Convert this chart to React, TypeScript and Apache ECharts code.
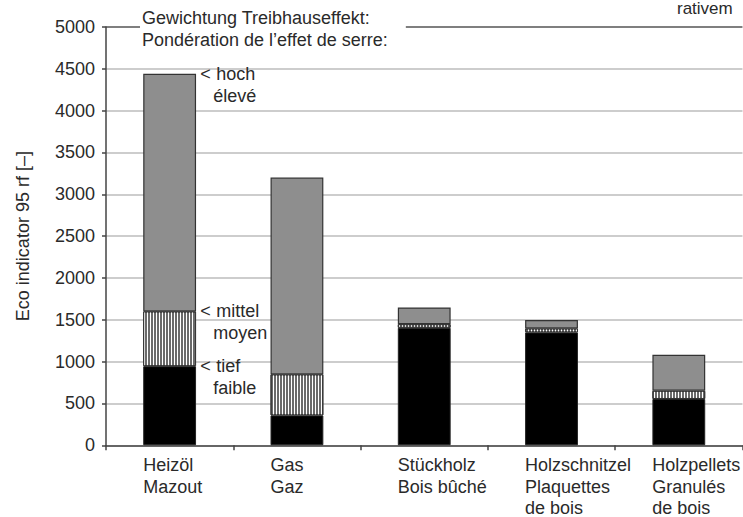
import React, { useEffect, useRef } from 'react';
import * as echarts from 'echarts';

const categories = [
  'Heizöl\nMazout',
  'Gas\nGaz',
  'Stückholz\nBois bûché',
  'Holzschnitzel\nPlaquettes\nde bois',
  'Holzpellets\nGranulés\nde bois',
];
// cumulative heights per weighting (tief / mittel / hoch)
const tief = [945, 357, 1404, 1349, 553];
const mittel = [1600, 847, 1447, 1396, 651];
const hoch = [4440, 3200, 1647, 1498, 1082];
const yMin = 0;
const yMax = 5000;
const yInterval = 500;
const yAxisName = 'Eco indicator 95 rf [–]';
const titleLines = ['Gewichtung Treibhauseffekt:', 'Pondération de l’effet de serre:'];
const annotHoch = ['hoch', 'élevé'];
const annotMittel = ['mittel', 'moyen'];
const annotTief = ['tief', 'faible'];
const cornerText = 'rativem';

const FONT = '"Liberation Sans", Arial, sans-serif';
const TXT = '#2a2a2a';

function annotLabel(lines: string[]) {
  return {
    show: true,
    position: [57, -11],
    align: 'left',
    verticalAlign: 'top',
    formatter: `{p|<}{t|${lines[0]}}\n{q|}{t|${lines[1]}}`,
    rich: {
      p: { width: 13, fontSize: 18, lineHeight: 22, fontFamily: FONT, color: TXT, align: 'left', padding: [0, 3, 0, 0] },
      q: { width: 13, fontSize: 18, lineHeight: 22, fontFamily: FONT, color: TXT, align: 'left' },
      t: { fontSize: 18, lineHeight: 22, fontFamily: FONT, color: TXT, align: 'left' },
    },
  };
}

export default function App() {
  const ref = useRef<HTMLDivElement>(null);
  useEffect(() => {
    if (!ref.current) return;
    const chart = echarts.init(ref.current, undefined, { renderer: 'svg' });
    const seg1 = tief.map((v, i) => (i === 0 ? { value: v, label: annotLabel(annotTief) } : v));
    const seg2 = mittel.map((v, i) => {
      const d = v - tief[i];
      return i === 0 ? { value: d, label: annotLabel(annotMittel) } : d;
    });
    const seg3 = hoch.map((v, i) => {
      const d = v - mittel[i];
      return i === 0 ? { value: d, label: annotLabel(annotHoch) } : d;
    });
    const nLines = Math.round((yMax - yMin) / yInterval) + 1;
    const splitColors = Array.from({ length: nLines }, (_, i) => (i === nLines - 1 ? '#555' : '#bdbdbd'));
    chart.setOption({
      animation: false,
      grid: { left: 106, right: -3, top: 27, bottom: 65, containLabel: false },
      xAxis: {
        type: 'category',
        data: categories,
        axisLine: { lineStyle: { color: '#444', width: 1.5 } },
        axisTick: { show: true, length: 5, lineStyle: { color: '#444', width: 1.5 } },
        axisLabel: {
          interval: 0,
          align: 'center',
          width: 53,
          overflow: 'none',
          margin: 9,
          formatter: (v: string) => v.split('\n').map((s) => `{a|${s}}`).join('\n'),
          rich: {
            a: { align: 'left', fontSize: 18, lineHeight: 21.5, fontFamily: FONT, color: TXT },
          },
        },
      },
      yAxis: {
        type: 'value',
        min: yMin,
        max: yMax,
        interval: yInterval,
        name: yAxisName,
        nameLocation: 'middle',
        nameGap: 74,
        nameTextStyle: { fontSize: 18, fontFamily: FONT, color: TXT },
        axisLine: { show: true, lineStyle: { color: '#444', width: 1.5 } },
        axisTick: { show: true, length: 4, lineStyle: { color: '#444', width: 1.5 } },
        axisLabel: {
          fontSize: 18,
          fontFamily: FONT,
          color: TXT,
          margin: 11,
          formatter: (v: number) => String(v),
        },
        splitLine: { show: true, lineStyle: { color: splitColors, width: 1.5 } },
      },
      series: [
        {
          type: 'bar',
          stack: 'a',
          barWidth: '41.5%',
          data: seg1,
          itemStyle: { color: '#000', borderColor: '#222', borderWidth: 1 },
        },
        {
          type: 'bar',
          stack: 'a',
          data: seg2,
          itemStyle: {
            color: '#6a6a6a',
            borderColor: '#333',
            borderWidth: 1,
            decal: {
              symbol: 'rect',
              symbolSize: 1,
              color: '#ffffff',
              dashArrayX: [1, 2],
              dashArrayY: [1, 0],
              rotation: 0,
            },
          },
        },
        {
          type: 'bar',
          stack: 'a',
          data: seg3,
          itemStyle: { color: '#8e8e8e', borderColor: '#333', borderWidth: 1.2 },
        },
      ],
      graphic: [
        {
          type: 'text',
          left: 140,
          top: 7,
          z: 100,
          style: {
            text: titleLines.join('\n'),
            fontSize: 18,
            lineHeight: 22,
            fontFamily: FONT,
            fill: TXT,
            backgroundColor: '#fff',
            padding: [0, 18, 0, 2],
          },
        },
        {
          type: 'text',
          left: 677,
          top: 0,
          z: 100,
          style: { text: cornerText, fontSize: 17, lineHeight: 17, fontFamily: FONT, fill: TXT },
        },
      ],
    });
    return () => chart.dispose();
  }, []);
  return (
    <div
      ref={ref}
      style={{ position: 'fixed', left: 0, top: 0, width: 743, height: 517, background: '#fff' }}
    />
  );
}
